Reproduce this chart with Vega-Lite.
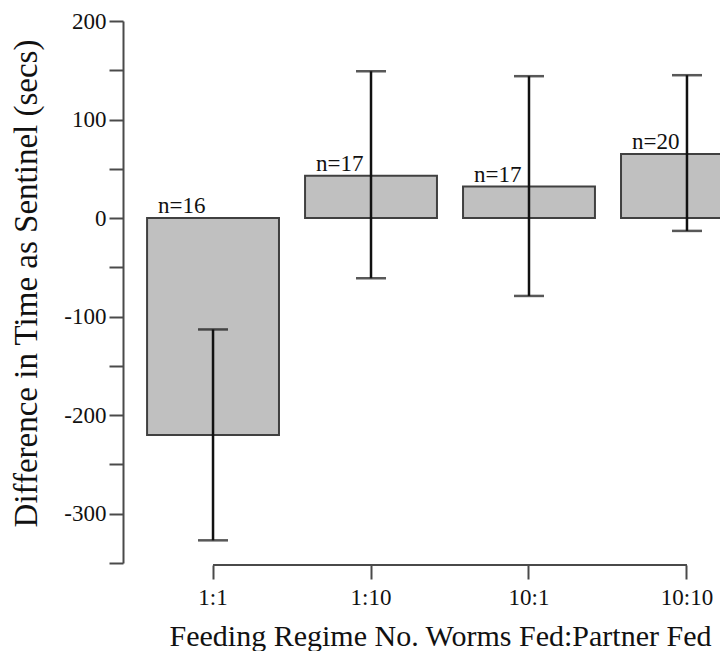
{
  "$schema": "https://vega.github.io/schema/vega-lite/v6.json",
  "width": 598,
  "height": 542,
  "padding": {"left": 10, "top": 10, "right": 0, "bottom": 0},
  "config": {
    "view": {"stroke": null},
    "font": "Liberation Serif",
    "axis": {"labelFont": "Liberation Serif", "titleFont": "Liberation Serif", "labelColor": "#111", "titleColor": "#111", "titleFontWeight": "normal", "grid": false}
  },
  "datasets": {
    "bars": [
      {"regime": "1:1", "mean": -220, "lo": -327, "hi": -113, "n": "n=16"},
      {"regime": "1:10", "mean": 43, "lo": -61, "hi": 149, "n": "n=17"},
      {"regime": "10:1", "mean": 32, "lo": -79, "hi": 144, "n": "n=17"},
      {"regime": "10:10", "mean": 65, "lo": -13, "hi": 145, "n": "n=20"}
    ],
    "xline": [{"from": "1:1", "to": "10:10"}]
  },
  "data": {"name": "bars"},
  "encoding": {
    "x": {
      "field": "regime",
      "type": "nominal",
      "scale": {"domain": ["1:1", "1:10", "10:1", "10:10"], "range": [-2, 656], "paddingInner": 0.165, "paddingOuter": 0.165},
      "axis": {
        "title": "Feeding Regime No. Worms Fed:Partner Fed",
        "titleFontSize": 30,
        "titlePadding": 12,
        "titleX": 317,
        "labelFontSize": 23,
        "labelAngle": 0,
        "labelPadding": 7,
        "domain": false,
        "ticks": true,
        "tickSize": 14,
        "tickWidth": 2,
        "tickColor": "#4a4a4a",
        "offset": 2
      }
    }
  },
  "layer": [
    {
      "mark": {"type": "bar", "fill": "#c0c0c0", "stroke": "#404040", "strokeWidth": 2, "clip": true},
      "encoding": {
        "y": {
          "field": "mean",
          "type": "quantitative",
          "scale": {"domain": [-350, 200], "nice": false, "zero": false},
          "axis": {
            "title": "Difference in Time as Sentinel (secs)",
            "titleFontSize": 33,
            "titlePadding": 20,
            "titleY": 262,
            "values": [-350, -300, -250, -200, -150, -100, -50, 0, 50, 100, 150, 200],
            "labelExpr": "datum.value % 100 === 0 ? '' + datum.value : ''",
            "labelFontSize": 23,
            "labelPadding": 3,
            "tickSize": 14,
            "tickWidth": 2,
            "tickColor": "#4a4a4a",
            "domainColor": "#4a4a4a",
            "domainWidth": 2
          }
        },
        "y2": {"datum": 0}
      }
    },
    {
      "mark": {"type": "rule", "color": "#111", "strokeWidth": 2.5},
      "encoding": {
        "y": {"field": "lo", "type": "quantitative"},
        "y2": {"field": "hi"}
      }
    },
    {
      "mark": {"type": "tick", "color": "#111", "size": 30, "thickness": 2.5},
      "encoding": {"y": {"field": "lo", "type": "quantitative"}}
    },
    {
      "mark": {"type": "tick", "color": "#111", "size": 30, "thickness": 2.5},
      "encoding": {"y": {"field": "hi", "type": "quantitative"}}
    },
    {
      "transform": [{"calculate": "max(datum.mean, 0)", "as": "top"}],
      "mark": {"type": "text", "font": "Liberation Serif", "fontSize": 23, "align": "left", "baseline": "alphabetic", "dx": -55, "dy": -5, "color": "#111"},
      "encoding": {
        "y": {"field": "top", "type": "quantitative"},
        "text": {"field": "n"}
      }
    },
    {
      "data": {"name": "xline"},
      "mark": {"type": "rule", "color": "#4a4a4a", "strokeWidth": 2, "yOffset": 2},
      "encoding": {
        "x": {"field": "from", "type": "nominal"},
        "x2": {"field": "to"},
        "y": {"datum": -350}
      }
    }
  ]
}
